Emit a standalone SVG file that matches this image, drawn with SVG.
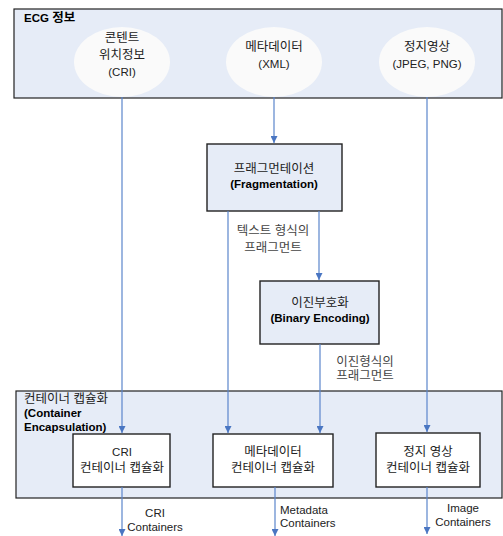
<svg xmlns="http://www.w3.org/2000/svg" width="503" height="536" viewBox="0 0 503 536">
<style>
.grp{fill:#e6ecf7;stroke:#222;stroke-width:1.2}
.ell{fill:#fafafa;stroke:none}
.box{fill:#e6ecf7;stroke:#222;stroke-width:1.4}
.wbox{fill:#fff;stroke:#222;stroke-width:1.4}
text{font-family:"Liberation Sans","Noto Sans CJK KR",Arial,sans-serif;font-size:11.5px;fill:#222}
.k{font-size:12.5px}
.c{text-anchor:middle}
.b{font-weight:bold;fill:#000}
.g{fill:#444}
.ln{stroke:#5b85cc;stroke-width:1.2;fill:none}
</style>
<defs>
<marker id="ah" viewBox="0 0 10 10" refX="10" refY="5" markerWidth="7" markerHeight="7" markerUnits="userSpaceOnUse" orient="auto">
<path d="M0,0 L10,5 L0,10 z" fill="#4a76c2"/>
</marker>
</defs>
<g id="ecg">
<rect class="grp" x="14" y="9" width="488" height="89"/>
<text class="b" x="24" y="22">ECG <tspan class="k">정보</tspan></text>
</g>
<g id="cri">
<ellipse class="ell" cx="122" cy="62" rx="48" ry="35"/>
<text class="c k" x="122" y="42">콘텐트</text>
<text class="c k" x="122" y="59">위치정보</text>
<text class="c" x="122" y="76">(CRI)</text>
</g>
<g id="xml">
<ellipse class="ell" cx="274" cy="62" rx="48" ry="35"/>
<text class="c k" x="274" y="51">메타데이터</text>
<text class="c" x="274" y="68">(XML)</text>
</g>
<g id="img">
<ellipse class="ell" cx="427" cy="62" rx="48" ry="35"/>
<text class="c k" x="427" y="51">정지영상</text>
<text class="c" x="427" y="68">(JPEG, PNG)</text>
</g>
<g id="frag">
<rect class="box" x="207" y="144" width="135" height="67"/>
<text class="c k" x="274" y="173">프래그먼테이션</text>
<text class="c b" x="274" y="188">(Fragmentation)</text>
</g>
<g id="bin">
<rect class="box" x="260" y="281" width="119" height="63"/>
<text class="c k" x="320" y="307">이진부호화</text>
<text class="c b" x="320" y="322">(Binary Encoding)</text>
</g>
<g id="cont">
<rect class="grp" x="16" y="391" width="486" height="107"/>
<text class="k" x="24" y="403">컨테이너 캡슐화</text>
<text class="b" x="24" y="417">(Container</text>
<text class="b" x="24" y="431">Encapsulation)</text>
</g>
<g id="cricont">
<rect class="wbox" x="73" y="434" width="97" height="53"/>
<text class="c" x="122" y="456">CRI</text>
<text class="c k" x="122" y="472">컨테이너 캡슐화</text>
</g>
<g id="metacont">
<rect class="wbox" x="213" y="434" width="120" height="53"/>
<text class="c k" x="273" y="456">메타데이터</text>
<text class="c k" x="273" y="472">컨테이너 캡슐화</text>
</g>
<g id="imgcont">
<rect class="wbox" x="376" y="433" width="104" height="54"/>
<text class="c k" x="428" y="456">정지 영상</text>
<text class="c k" x="428" y="472">컨테이너 캡슐화</text>
</g>
<g id="connectors">
<line class="ln" x1="122" y1="97" x2="122" y2="433" marker-end="url(#ah)"/>
<line class="ln" x1="274" y1="97" x2="274" y2="143" marker-end="url(#ah)"/>
<line class="ln" x1="427" y1="97" x2="427" y2="432" marker-end="url(#ah)"/>
<line class="ln" x1="228" y1="211" x2="228" y2="433" marker-end="url(#ah)"/>
<line class="ln" x1="319" y1="211" x2="319" y2="280" marker-end="url(#ah)"/>
<line class="ln" x1="320" y1="344" x2="320" y2="433" marker-end="url(#ah)"/>
<line class="ln" x1="122" y1="487" x2="122" y2="536" marker-end="url(#ah)"/>
<line class="ln" x1="275" y1="487" x2="275" y2="536" marker-end="url(#ah)"/>
<line class="ln" x1="427" y1="487" x2="427" y2="534" marker-end="url(#ah)"/>
<text class="c g k" x="273" y="235">텍스트 형식의</text>
<text class="c g k" x="273" y="252">프래그먼트</text>
<text class="c g k" x="365" y="366">이진형식의</text>
<text class="c g k" x="365" y="380">프래그먼트</text>
<text class="c" x="155" y="517">CRI</text>
<text class="c" x="155" y="531">Containers</text>
<text x="280" y="514">Metadata</text>
<text x="280" y="527">Containers</text>
<text class="c" x="463" y="512">Image</text>
<text class="c" x="463" y="526">Containers</text>
</g>
</svg>
